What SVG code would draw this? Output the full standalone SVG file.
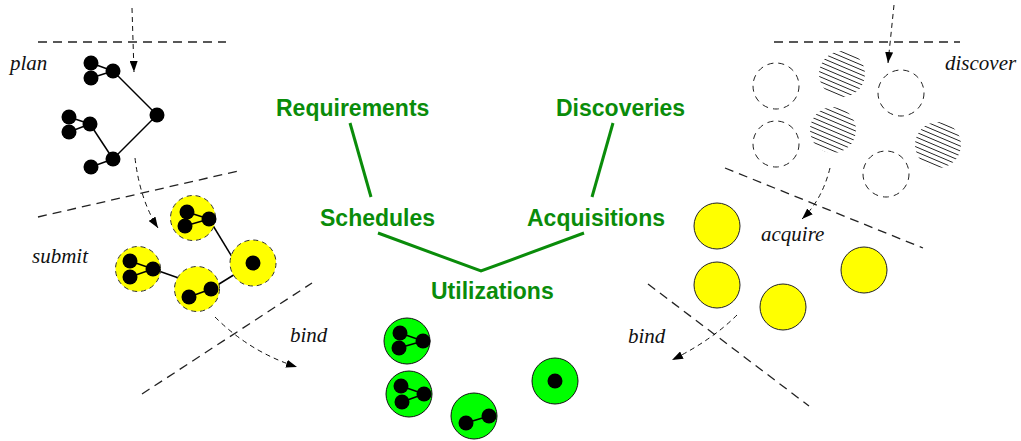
<svg xmlns="http://www.w3.org/2000/svg" width="1021" height="441" viewBox="0 0 1021 441">
<style>
.sep{fill:none;stroke:#222;stroke-width:1.3;stroke-dasharray:9 6}
.arr{fill:none;stroke:#111;stroke-width:1;stroke-dasharray:5 4;marker-end:url(#ah)}
.lbl{font-family:"Liberation Serif",serif;font-style:italic;font-size:21px;fill:#111}
.gt{font-family:"Liberation Sans",Arial,sans-serif;font-weight:bold;font-size:23px;fill:#0a8c0a}
.gl{fill:none;stroke:#0a8c0a;stroke-width:3}
.n{fill:#000}
.e{stroke:#000;stroke-width:1.5;fill:none}
.yd{fill:#ffff00;stroke:#333;stroke-width:1;stroke-dasharray:5 4}
.ys{fill:#ffff00;stroke:#222;stroke-width:1}
.gc{fill:#00ff00;stroke:#111;stroke-width:1}
.ec{fill:none;stroke:#222;stroke-width:1;stroke-dasharray:6 5}
.hc{fill:url(#hatch)}
</style>
<defs>
<marker id="ah" markerUnits="userSpaceOnUse" markerWidth="12" markerHeight="8" refX="11" refY="4" orient="auto"><path d="M0,0 L11,4 L0,8 z" fill="#000"/></marker>
<pattern id="hatch" patternUnits="userSpaceOnUse" width="4.5" height="4.5" patternTransform="rotate(23)"><line x1="0" y1="2.25" x2="4.5" y2="2.25" stroke="#222" stroke-width="0.9"/></pattern>
</defs>

<g id="separators">
<line class="sep" x1="38" y1="42" x2="226" y2="42"/>
<line class="sep" x1="38" y1="217" x2="238" y2="171"/>
<line class="sep" x1="142" y1="394" x2="312" y2="283"/>
<line class="sep" x1="774" y1="42" x2="960" y2="42"/>
<line class="sep" x1="725" y1="168" x2="923" y2="248"/>
<line class="sep" x1="648" y1="284" x2="809" y2="406"/>
</g>

<g id="connectors">
<path class="arr" d="M132,8 L134,72"/>
<path class="arr" d="M135,158 Q140,200 158,228"/>
<path class="arr" d="M215,317 Q250,352 297,367"/>
<path class="arr" d="M894,5 L888,63"/>
<path class="arr" d="M830,168 Q822,200 802,219"/>
<path class="arr" d="M737,315 Q712,340 672,360"/>
<line class="gl" x1="350" y1="123" x2="371" y2="197"/>
<line class="gl" x1="613" y1="123" x2="592" y2="197"/>
<polyline class="gl" points="378,233 481,271 584,233"/>
</g>

<g id="labels">
<text class="lbl" x="10" y="70">plan</text>
<text class="lbl" x="32" y="263">submit</text>
<text class="lbl" x="290" y="342">bind</text>
<text class="lbl" x="945" y="70">discover</text>
<text class="lbl" x="761" y="241">acquire</text>
<text class="lbl" x="628" y="343">bind</text>
</g>

<g id="concept-requirements"><text class="gt" x="276" y="116">Requirements</text></g>
<g id="concept-discoveries"><text class="gt" x="556" y="116">Discoveries</text></g>
<g id="concept-schedules"><text class="gt" x="320" y="226">Schedules</text></g>
<g id="concept-acquisitions"><text class="gt" x="527" y="226">Acquisitions</text></g>
<g id="concept-utilizations"><text class="gt" x="431" y="299">Utilizations</text></g>

<g id="plan-graph">
<line class="e" x1="91" y1="63" x2="113" y2="71"/>
<line class="e" x1="91" y1="78" x2="113" y2="71"/>
<line class="e" x1="113" y1="71" x2="157" y2="115"/>
<line class="e" x1="157" y1="115" x2="113" y2="159"/>
<line class="e" x1="113" y1="159" x2="91" y2="167"/>
<line class="e" x1="113" y1="159" x2="90" y2="124"/>
<line class="e" x1="69" y1="117" x2="90" y2="124"/>
<line class="e" x1="69" y1="132" x2="90" y2="124"/>
<circle class="n" cx="91" cy="63" r="7.5"/><circle class="n" cx="91" cy="78" r="7.5"/><circle class="n" cx="113" cy="71" r="7.5"/>
<circle class="n" cx="157" cy="115" r="7.5"/>
<circle class="n" cx="113" cy="159" r="7.5"/><circle class="n" cx="91" cy="167" r="7.5"/>
<circle class="n" cx="69" cy="117" r="7.5"/><circle class="n" cx="69" cy="132" r="7.5"/><circle class="n" cx="90" cy="124" r="7.5"/>
</g>

<g id="submit-graph">
<line class="e" x1="209" y1="219" x2="240" y2="270"/>
<line class="e" x1="253" y1="263" x2="211" y2="289"/>
<line class="e" x1="153" y1="269" x2="190" y2="282"/>
<circle class="yd" cx="193" cy="218" r="22.5"/>
<circle class="yd" cx="138" cy="269" r="22.5"/>
<circle class="yd" cx="197" cy="289" r="22.5"/>
<circle class="yd" cx="253" cy="263" r="23"/>
<line class="e" x1="187" y1="212" x2="209" y2="219"/><line class="e" x1="185" y1="226" x2="209" y2="219"/>
<line class="e" x1="130" y1="261" x2="153" y2="269"/><line class="e" x1="130" y1="277" x2="153" y2="269"/>
<line class="e" x1="189" y1="297" x2="211" y2="289"/>
<circle class="n" cx="187" cy="212" r="7.5"/><circle class="n" cx="185" cy="226" r="7.5"/><circle class="n" cx="209" cy="219" r="7.5"/>
<circle class="n" cx="130" cy="261" r="7.5"/><circle class="n" cx="130" cy="277" r="7.5"/><circle class="n" cx="153" cy="269" r="7.5"/>
<circle class="n" cx="189" cy="297" r="7.5"/><circle class="n" cx="211" cy="289" r="7.5"/>
<circle class="n" cx="253" cy="263" r="7.5"/>
</g>

<g id="utilization-groups">
<circle class="gc" cx="407" cy="341" r="23"/>
<circle class="gc" cx="409" cy="394" r="23"/>
<circle class="gc" cx="474" cy="416" r="23"/>
<circle class="gc" cx="555" cy="381" r="23"/>
<line class="e" x1="400" y1="333" x2="423" y2="341"/><line class="e" x1="399" y1="348" x2="423" y2="341"/>
<line class="e" x1="401" y1="386" x2="424" y2="394"/><line class="e" x1="402" y1="402" x2="424" y2="394"/>
<line class="e" x1="466" y1="423" x2="489" y2="416"/>
<circle class="n" cx="400" cy="333" r="7.5"/><circle class="n" cx="399" cy="348" r="7.5"/><circle class="n" cx="423" cy="341" r="7.5"/>
<circle class="n" cx="401" cy="386" r="7.5"/><circle class="n" cx="402" cy="402" r="7.5"/><circle class="n" cx="424" cy="394" r="7.5"/>
<circle class="n" cx="466" cy="423" r="7.5"/><circle class="n" cx="489" cy="416" r="7.5"/>
<circle class="n" cx="555" cy="381" r="7.5"/>
</g>

<g id="discover-resources">
<circle class="ec" cx="776" cy="86" r="23"/>
<circle class="ec" cx="901" cy="93" r="23"/>
<circle class="ec" cx="776" cy="144" r="23"/>
<circle class="ec" cx="886" cy="174" r="23"/>
<circle class="hc" cx="842" cy="74" r="23"/>
<circle class="hc" cx="833" cy="130" r="23"/>
<circle class="hc" cx="938" cy="145" r="23"/>
</g>

<g id="acquired-resources">
<circle class="ys" cx="717" cy="226" r="23"/>
<circle class="ys" cx="717" cy="285" r="23"/>
<circle class="ys" cx="783" cy="307" r="23"/>
<circle class="ys" cx="864" cy="270" r="23"/>
</g>
</svg>
